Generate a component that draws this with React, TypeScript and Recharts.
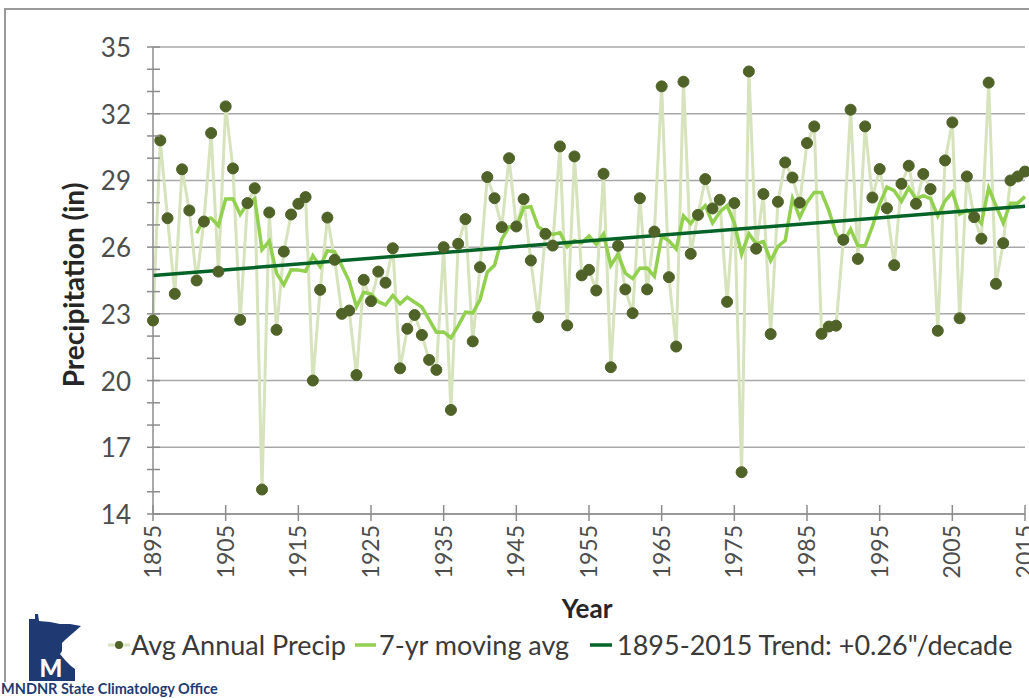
import React from 'react';
import { LineChart, Line, XAxis, YAxis, CartesianGrid, Legend } from 'recharts';

const FONT = 'Lato, "Noto Sans", sans-serif';
const DOT = '#4f6228';
const LIGHT = '#d6e3bc';
const AVG = '#92d050';
const TREND = '#056327';

const firstYear = 1895;

// Minnesota annual precipitation (in), 1895 through 2015
const annualPrecip = [
  22.7, 30.8, 27.3, 23.9, 29.5, 27.65, 24.5, 27.15, 31.13, 24.9,
  32.33, 29.54, 22.73, 27.98, 28.65, 15.1, 27.56, 22.28, 25.8, 27.47,
  27.95, 28.25, 20.0, 24.08, 27.33, 25.43, 23.0, 23.15, 20.25, 24.53,
  23.57, 24.9, 24.4, 25.95, 20.55, 22.33, 22.95, 22.05, 20.93, 20.48,
  26.0, 18.68, 26.15, 27.26, 21.76, 25.1, 29.15, 28.2, 26.9, 30.0,
  26.93, 28.16, 25.4, 22.85, 26.6, 26.07, 30.53, 22.48, 30.08, 24.73,
  24.98, 24.05, 29.3, 20.6, 26.06, 24.1, 23.03, 28.2, 24.1, 26.7,
  33.23, 24.65, 21.53, 33.44, 25.7, 27.45, 29.06, 27.74, 28.13, 23.54,
  27.98, 15.88, 33.9, 25.93, 28.39, 22.09, 28.04, 29.81, 29.13, 28.0,
  30.68, 31.43, 22.1, 22.43, 22.47, 26.33, 32.18, 25.47, 31.43, 28.23,
  29.51, 27.75, 25.19, 28.85, 29.66, 27.95, 29.29, 28.61, 22.24, 29.9,
  31.61, 22.8, 29.18, 27.35, 26.38, 33.4, 24.35, 26.18, 29.0, 29.18,
  29.4,
];

// linear trend end points as drawn (+0.26"/decade)
const trendYears = [1895, 2015];
const trendValues = [24.72, 27.84];

const xTicks = [1895, 1905, 1915, 1925, 1935, 1945, 1955, 1965, 1975, 1985, 1995, 2005, 2015];
const yMajorTicks = [14, 17, 20, 23, 26, 29, 32, 35];
const yMinorTicks = [14, 15, 16, 17, 18, 19, 20, 21, 22, 23, 24, 25, 26, 27, 28, 29, 30, 31, 32, 33, 34, 35];

const legendLabels = ['Avg Annual Precip', '7-yr moving avg', '1895-2015 Trend: +0.26"/decade'];

// 7-yr trailing mean, as named in the legend
const rows = annualPrecip.map((p, i) => {
  const win = i >= 6 ? annualPrecip.slice(i - 6, i + 1) : null;
  return {
    year: firstYear + i,
    precip: p,
    avg7: win ? win.reduce((s, v) => s + v, 0) / 7 : null,
  };
});

const trendRows = trendYears.map((year, i) => ({ year, trend: trendValues[i] }));

const YTick = (props: any) => {
  const { x, y, payload } = props;
  const major = yMajorTicks.includes(payload.value);
  return (
    <g>
      <line x1={x - 6} x2={x + 7} y1={y} y2={y} stroke="#8c8c8c" strokeWidth={1.5} />
      {major && (
        <text x={x - 22} y={y} textAnchor="end" dominantBaseline="central" fontFamily={FONT} fontSize={26} fill="#4d4d4d">
          {payload.value}
        </text>
      )}
    </g>
  );
};

const XTick = (props: any) => {
  const { x, y, payload } = props;
  return (
    <g>
      <line x1={x} x2={x} y1={y - 9} y2={y + 7} stroke="#8c8c8c" strokeWidth={1.5} />
      <text
        transform={`translate(${x},${y + 11}) rotate(-90)`}
        textAnchor="end"
        dy="0.35em"
        fontFamily={FONT}
        fontSize={23}
        fill="#4d4d4d"
      >
        {payload.value}
      </text>
    </g>
  );
};

const LegendRow = () => (
  <div style={{ position: 'relative', width: 1029, height: 40, fontFamily: FONT, fontSize: 27, color: '#3a3a3a' }}>
    <svg style={{ position: 'absolute', left: 108, top: 14 }} width={22} height={12}>
      <line x1={0} x2={22} y1={6} y2={6} stroke={LIGHT} strokeWidth={3} />
      <circle cx={11} cy={6} r={4} fill={DOT} />
    </svg>
    <span style={{ position: 'absolute', left: 131, top: 0, lineHeight: '40px', whiteSpace: 'nowrap' }}>{legendLabels[0]}</span>
    <svg style={{ position: 'absolute', left: 355, top: 14 }} width={21} height={12}>
      <line x1={0} x2={21} y1={6} y2={6} stroke={AVG} strokeWidth={3.5} />
    </svg>
    <span style={{ position: 'absolute', left: 379, top: 0, lineHeight: '40px', whiteSpace: 'nowrap' }}>{legendLabels[1]}</span>
    <svg style={{ position: 'absolute', left: 590, top: 14 }} width={22} height={12}>
      <line x1={0} x2={22} y1={6} y2={6} stroke={TREND} strokeWidth={3.5} />
    </svg>
    <span style={{ position: 'absolute', left: 617, top: 0, lineHeight: '40px', whiteSpace: 'nowrap' }}>{legendLabels[2]}</span>
  </div>
);

const Logo = () => (
  <svg style={{ position: 'absolute', left: 26, top: 613 }} width={58} height={68}>
    <path
      d="M3,6 L9,6 L9,1 L12,1 L13,8 L24,9 L34,11 L44,11 L55,13 L39,27 L36,30 L36,38 L34,41 L39,47 L45,53 L49,56 L49,68 L3,68 Z"
      fill="#1f3a73"
    />
    <text x={25} y={64} textAnchor="middle" fontFamily={FONT} fontWeight={900} fontSize={24} fill="#ffffff">
      M
    </text>
  </svg>
);

export default function App() {
  return (
    <div style={{ position: 'absolute', left: 0, top: 0, width: 1029, height: 698, background: '#fff', overflow: 'hidden' }}>
      <div
        style={{
          position: 'absolute',
          left: 4,
          top: 8,
          width: 1100,
          height: 672,
          borderLeft: '2px solid #9a9a9a',
          borderTop: '2px solid #9a9a9a',
        }}
      />
      <LineChart width={1029} height={698} data={rows} margin={{ top: 47, right: 4, left: 0, bottom: 0 }}>
        <CartesianGrid vertical={false} horizontalValues={yMajorTicks} stroke="#a8a8a8" strokeWidth={1.5} />
        <XAxis
          dataKey="year"
          type="number"
          domain={[1895, 2015]}
          ticks={xTicks}
          interval={0}
          height={184}
          tickSize={0}
          tickMargin={0}
          tick={<XTick />}
          axisLine={{ stroke: '#8c8c8c', strokeWidth: 1.5 }}
          label={{
            content: (p: any) => {
              const vb = p.viewBox || { x: 153, width: 872 };
              return (
                <text x={vb.x + vb.width / 2 - 2} y={608} textAnchor="middle" dominantBaseline="central" fontFamily={FONT} fontWeight={700} fontSize={26} fill="#262626">
                  Year
                </text>
              );
            },
          }}
        />
        <YAxis
          type="number"
          domain={[14, 35]}
          ticks={yMinorTicks}
          interval={0}
          width={153}
          tickSize={0}
          tickMargin={0}
          tick={<YTick />}
          axisLine={{ stroke: '#8c8c8c', strokeWidth: 1.5 }}
          label={{
            content: () => (
              <text transform="translate(73,285) rotate(-90)" textAnchor="middle" dominantBaseline="central" fontFamily={FONT} fontWeight={700} fontSize={28} fill="#262626">
                Precipitation (in)
              </text>
            ),
          }}
        />
        <Line
          dataKey="precip"
          stroke={LIGHT}
          strokeWidth={3}
          dot={{ r: 5.5, fill: DOT, stroke: DOT, strokeWidth: 1 }}
          activeDot={false}
          isAnimationActive={false}
        />
        <Line dataKey="avg7" stroke={AVG} strokeWidth={3.5} dot={false} activeDot={false} isAnimationActive={false} />
        <Line data={trendRows} dataKey="trend" stroke={TREND} strokeWidth={3.5} dot={false} activeDot={false} isAnimationActive={false} />
        <Legend
          layout="vertical"
          align="center"
          verticalAlign="middle"
          wrapperStyle={{ left: 0, top: 625, width: 1029, height: 40 }}
          content={() => <LegendRow />}
        />
      </LineChart>
      <Logo />
      <div
        style={{
          position: 'absolute',
          left: 1,
          top: 681,
          fontFamily: FONT,
          fontWeight: 700,
          fontSize: 14.5,
          lineHeight: '15px',
          color: '#1f3a73',
          whiteSpace: 'nowrap',
        }}
      >
        MNDNR State Climatology Office
      </div>
    </div>
  );
}
